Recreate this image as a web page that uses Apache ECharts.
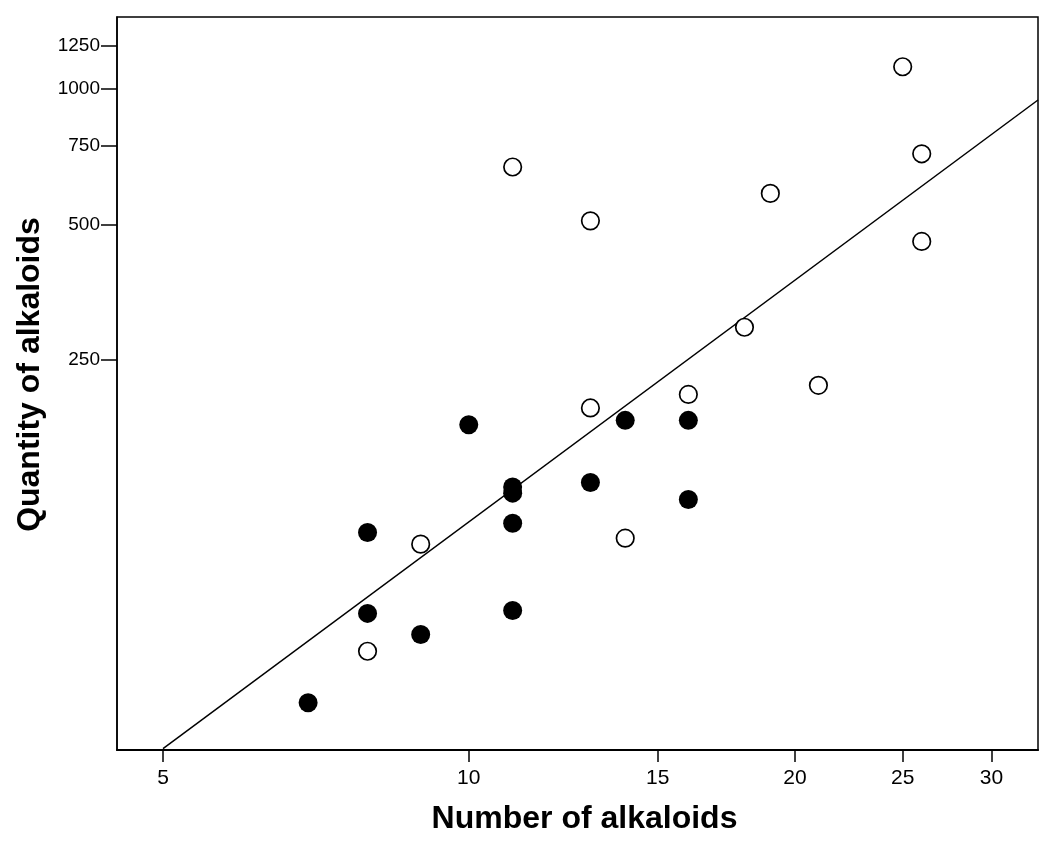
<!DOCTYPE html>
<html lang="en">
<head>
    <meta charset="UTF-8">
    <title>Alkaloids</title>
    <script src="https://cdn.jsdelivr.net/npm/echarts@6/dist/echarts.min.js"></script>
</head>
<body style="margin:0">
<div id="main" style="width: 1050px;height:845px"></div>
<script>
    // open circles
    const openN = [25, 26, 11, 19, 13, 26, 18, 21, 16, 13, 9, 14, 8]
    const openQ = [1122, 718, 671, 586, 509, 458, 295, 219, 209, 195, 97, 100, 56]
    // filled circles
    const filledN = [7, 8, 8, 9, 10, 11, 11, 11, 11, 13, 14, 16, 16]
    const filledQ = [43, 68, 103, 61, 179, 69, 108, 126, 130, 133, 183, 183, 122]
    // fit line, two ends
    const lineN = [5, 33]
    const lineQ = [34, 946]

    const xTicks = [5, 10, 15, 20, 25, 30]
    const yTicks = [250, 500, 750, 1000, 1250]
    const xRange = [4.477, 33]   // N, x axis is log(N + 1)
    const yRange = [33.75, 1448]

    const fx = n => Math.log10(n + 1)
    const fy = q => Math.log10(q)
    const pts = (ns, qs) => ns.map((n, i) => [fx(n), fy(qs[i])])

    const font = '"Liberation Sans", Arial, sans-serif'
    const myChart = echarts.init(document.getElementById('main'))
    const option = {
        backgroundColor: '#fff',
        animation: false,
        grid: {
            left: 117, right: 12, top: 17, bottom: 95,
            show: true, borderColor: '#000', borderWidth: 1.5
        },
        xAxis: {
            type: 'value',
            min: fx(xRange[0]),
            max: fx(xRange[1]),
            splitLine: {show: false},
            axisLine: {lineStyle: {color: '#000', width: 2}},
            axisTick: {length: 12, lineStyle: {color: '#000', width: 1.5}, customValues: xTicks.map(fx)},
            axisLabel: {
                customValues: xTicks.map(fx),
                formatter: v => String(Math.round(Math.pow(10, v) - 1)),
                color: '#000', fontSize: 21, fontFamily: font, margin: 18
            },
            name: 'Number of alkaloids',
            nameLocation: 'middle',
            nameGap: 53,
            nameTextStyle: {color: '#000', fontSize: 32, fontWeight: 'bold', fontFamily: font, padding: [0, 0, 0, 14]}
        },
        yAxis: {
            type: 'value',
            min: fy(yRange[0]),
            max: fy(yRange[1]),
            splitLine: {show: false},
            axisLine: {lineStyle: {color: '#000', width: 1.5}},
            axisTick: {length: 16, lineStyle: {color: '#000', width: 1.5}, customValues: yTicks.map(fy)},
            axisLabel: {
                customValues: yTicks.map(fy),
                formatter: v => String(Math.round(Math.pow(10, v))),
                color: '#000', fontSize: 19, fontFamily: font, margin: 17
            },
            name: 'Quantity of alkaloids',
            nameLocation: 'middle',
            nameGap: 71,
            nameTextStyle: {color: '#000', fontSize: 32, fontWeight: 'bold', fontFamily: font, padding: [0, 0, 0, 18]}
        },
        series: [
            {
                type: 'line',
                data: pts(lineN, lineQ),
                symbol: 'none',
                lineStyle: {color: '#000', width: 1.5},
                z: 1
            },
            {
                type: 'scatter',
                data: pts(filledN, filledQ),
                symbolSize: 19,
                itemStyle: {color: '#000', opacity: 1},
                z: 3
            },
            {
                type: 'scatter',
                data: pts(openN, openQ),
                symbolSize: 17.5,
                itemStyle: {color: '#fff', borderColor: '#000', borderWidth: 1.7, opacity: 1},
                z: 3
            }
        ]
    };
    myChart.setOption(option);
</script>
</body>
</html>
